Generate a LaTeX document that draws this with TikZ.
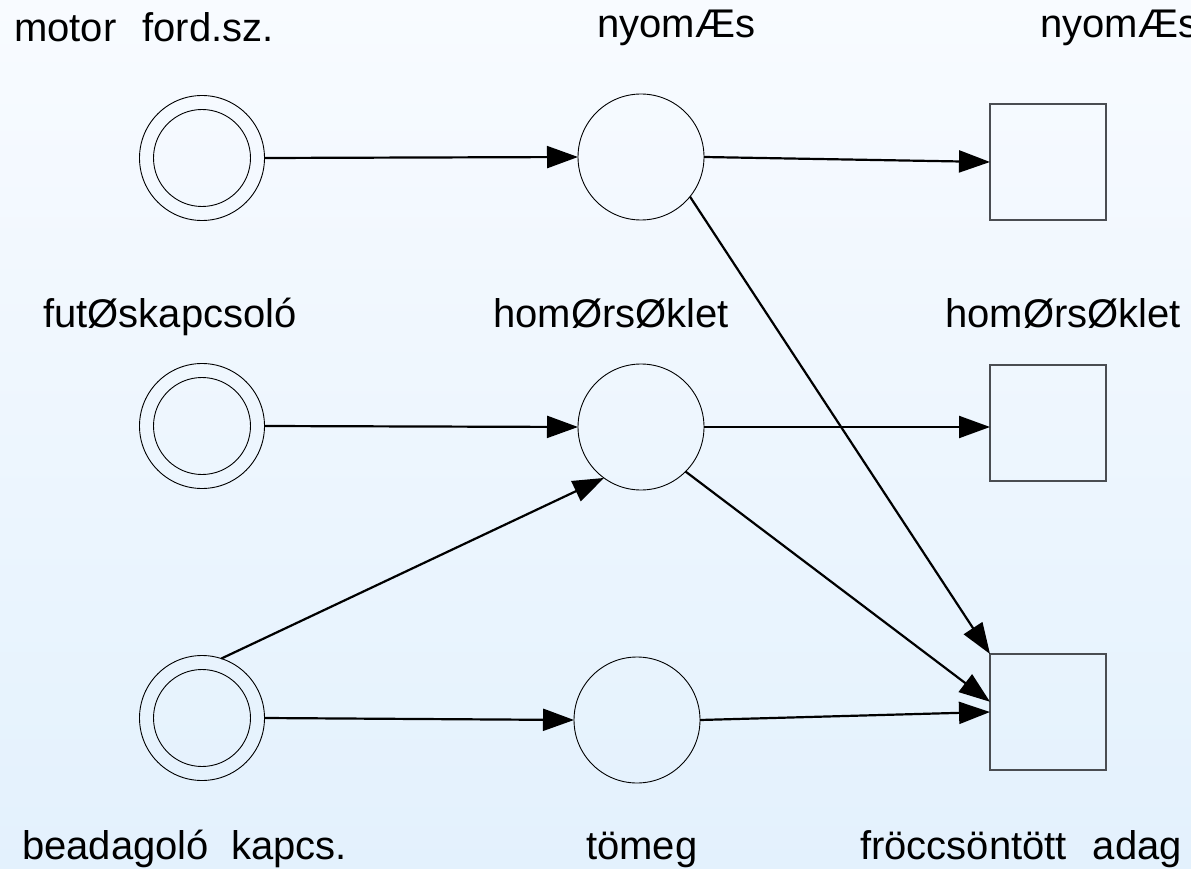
\documentclass[tikz,border=0pt]{standalone}
\usepackage{fontspec}
\setmainfont{Liberation Sans}
\usetikzlibrary{arrows.meta}
\definecolor{bgtop}{HTML}{F8FBFF}
\definecolor{bgbot}{HTML}{E3F1FD}
\definecolor{boxline}{HTML}{4A4D52}
\begin{document}
\begin{tikzpicture}[x=1pt,y=-1pt,
  ring/.style={circle,draw=black,line width=0.9pt,inner sep=0pt,outer sep=0pt,minimum size=125pt},
  innerring/.style={circle,draw=black,line width=0.9pt,inner sep=0pt,outer sep=0pt,minimum size=97pt},
  place/.style={circle,draw=black,line width=0.9pt,inner sep=0pt,outer sep=0pt,minimum size=126pt},
  store/.style={rectangle,draw=boxline,line width=1.3pt,inner sep=0pt,outer sep=0pt,minimum size=116pt},
  lbl/.style={anchor=base west,inner sep=0pt,font=\fontsize{40}{48}\selectfont},
  conn/.style={line width=2.2pt,-{Triangle[length=31pt,width=22pt]}}]
\useasboundingbox (0,0) rectangle (1191,869);
\clip (0,0) rectangle (1191,869);
\shade[top color=bgtop,bottom color=bgbot] (0,0) rectangle (1191,869);

% input switches (double rings)
\node[ring] (b1) at (202,158) {};
\node[innerring] (b1i) at (202,158) {};
\node[ring] (b2) at (202,426) {};
\node[innerring] (b2i) at (202,426) {};
\node[ring] (b3) at (202,718) {};
\node[innerring] (b3i) at (202,718) {};

% process variables
\node[place] (n1) at (641,157) {};
\node[place] (n2) at (641,427) {};
\node[place] (n3) at (637,720) {};

% outputs
\node[store] (s1) at (1048,162) {};
\node[store] (s2) at (1048,423) {};
\node[store] (s3) at (1048,712) {};

% labels
\node[lbl] (l1) at (14,42) {motor\hspace{26pt}ford.sz.};
\node[lbl] (l2) at (597,38) {nyomÆs};
\node[lbl] (l3) at (1040,38) {nyomÆs};
\node[lbl] (l4) at (43,327) {futØskapcsoló};
\node[lbl] (l5) at (493,327) {homØrsØklet};
\node[lbl] (l6) at (945,327) {homØrsØklet};
\node[lbl] (l7) at (22,859) {beadagoló\hspace{22pt}kapcs.};
\node[lbl] (l8) at (586,859) {tömeg};
\node[lbl] (l9) at (860,859) {fröccsöntött\hspace{26pt}adag};

% connections
\draw[conn] (b1.east) -- (n1.west);
\draw[conn] (n1.east) -- (s1.west);
\draw[conn] (n1.-39) -- (s3.north west);
\draw[conn] (b2.east) -- (n2.west);
\draw[conn] (n2.east) -- (s2.west |- n2.east);
\draw[conn] (n2.-45) -- (s3.170);
\draw[conn] (b3.72) -- (n2.-126);
\draw[conn] (b3.east) -- (n3.west);
\draw[conn] (n3.east) -- (s3.west);
\end{tikzpicture}
\end{document}
